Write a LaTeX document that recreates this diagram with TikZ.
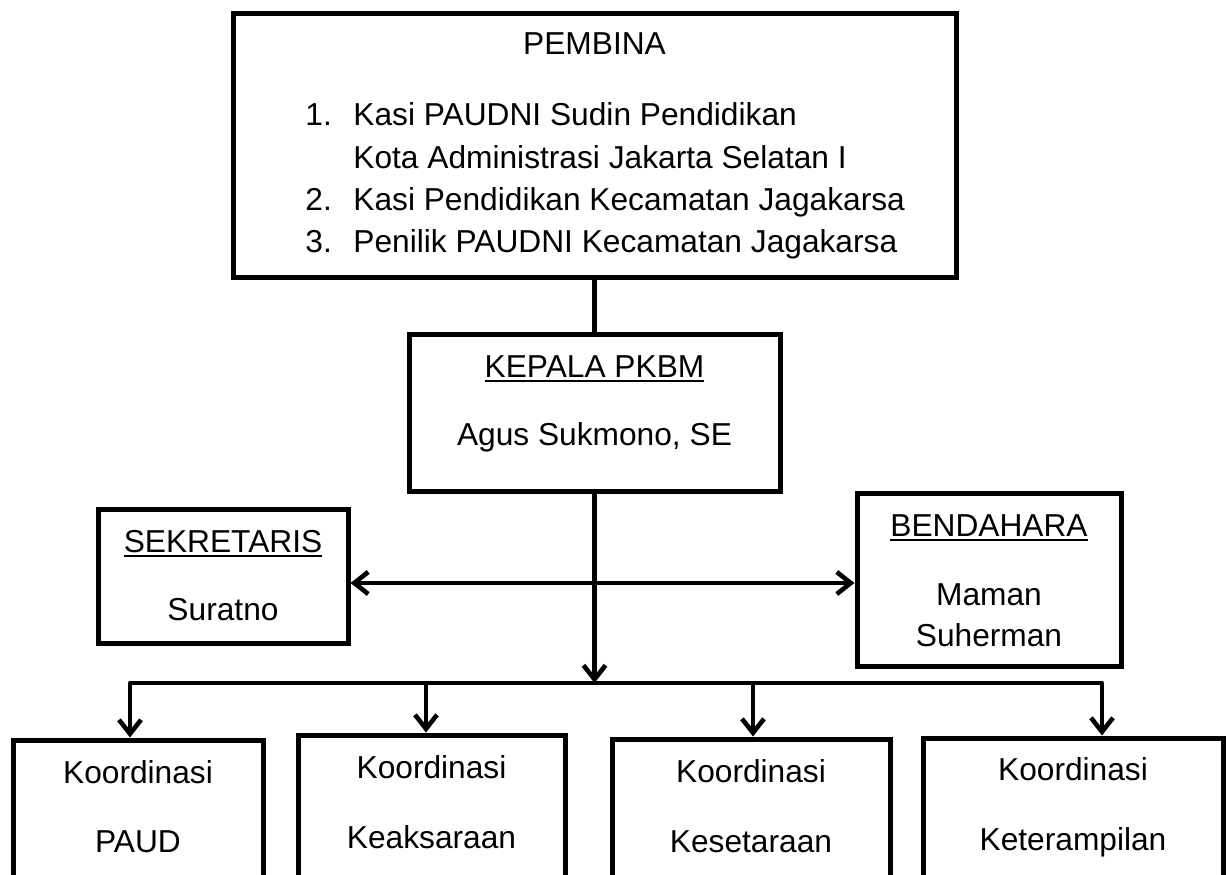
\documentclass[tikz,border=0pt]{standalone}
\usepackage{fontspec}
\setmainfont{Liberation Sans}
\usetikzlibrary{positioning,arrows.meta}
\tikzset{>={Straight Barb[length=7pt,width=11pt]}}
\newcommand{\garis}[1]{\setbox0\hbox{#1}\rlap{\rule[-2.7pt]{\wd0}{1.3pt}}\box0}

\begin{document}
\begin{tikzpicture}[
x=0.5pt, y=-0.5pt,
box/.style={draw=black, line width=2.5pt, inner sep=0pt},
teks/.style={inner sep=0pt, anchor=base, font=\fontsize{15.85pt}{21pt}\selectfont},
item/.style={teks, anchor=base west},
garisan/.style={line width=2.3pt, line join=round},
]
\useasboundingbox (0,0) rectangle (1226,874);

%Boxes
\node[box, minimum width=361.5pt, minimum height=132pt] (pembina) at (594.5,145) {};
\node[box, minimum width=185.5pt, minimum height=78.5pt] (kepala) at (594.5,412.5) {};
\node[box, minimum width=125pt, minimum height=67pt] (sekretaris) at (223,576) {};
\node[box, minimum width=132pt, minimum height=86.5pt] (bendahara) at (989,579.5) {};

%Koordinasi boxes
\node[box, minimum width=125pt, minimum height=90pt] (koor1) at (138,830) {};
\node[box, minimum width=133.5pt, minimum height=92.5pt] (koor2) at (431.5,827.5) {};
\node[box, minimum width=139pt, minimum height=90.5pt] (koor3) at (751,829.5) {};
\node[box, minimum width=150pt, minimum height=91pt] (koor4) at (1073,829) {};

%Pembina texts
\node[teks] (pembinaT) at (594.5,54) {PEMBINA};
\node[item] (no1) at (305,125) {1.};
\node[item] (no2) at (305,210) {2.};
\node[item] (no3) at (305,252) {3.};
\node[item] (item1) at (353,125) {Kasi PAUDNI Sudin Pendidikan};
\node[item] (item1b) at (353,168) {Kota Administrasi Jakarta Selatan I};
\node[item] (item2) at (353,210) {Kasi Pendidikan Kecamatan Jagakarsa};
\node[item] (item3) at (353,252) {Penilik PAUDNI Kecamatan Jagakarsa};

%Kepala, sekretaris, bendahara texts
\node[teks] (kepalaT) at (594.5,377) {\garis{KEPALA PKBM}};
\node[teks] (kepalaN) at (594.5,445) {Agus Sukmono, SE};
\node[teks] (sekretarisT) at (223,552) {\garis{SEKRETARIS}};
\node[teks] (sekretarisN) at (223,620) {Suratno};
\node[teks] (bendaharaT) at (989,536) {\garis{BENDAHARA}};
\node[teks] (bendaharaN1) at (989,605) {Maman};
\node[teks] (bendaharaN2) at (989,646) {Suherman};

%Koordinasi texts
\node[teks] (koor1T) at (138,783) {Koordinasi};
\node[teks] (koor1N) at (138,852) {PAUD};
\node[teks] (koor2T) at (431.5,778) {Koordinasi};
\node[teks] (koor2N) at (431.5,848) {Keaksaraan};
\node[teks] (koor3T) at (751,782) {Koordinasi};
\node[teks] (koor3N) at (751,852) {Kesetaraan};
\node[teks] (koor4T) at (1073,780) {Koordinasi};
\node[teks] (koor4N) at (1073,850) {Keterampilan};

%Bus points
\coordinate (tengah) at (594,583);
\coordinate (pusat) at (594,683);
\coordinate (c1) at (130,683);
\coordinate (c2) at (426,683);
\coordinate (c3) at (753,683);
\coordinate (c4) at (1102,683);

%Connections
\draw[garisan] (pembina.south) -- (kepala.north);
\draw[garisan, ->] (kepala.south) -- (kepala.south |- pusat);
\draw[garisan, <->] (sekretaris.east |- tengah) -- (bendahara.west |- tengah);
\draw[garisan, <->] (c1 |- koor1.north) -- (c1) -- (c4) -- (c4 |- koor4.north);
\draw[garisan, ->] (c2) -- (c2 |- koor2.north);
\draw[garisan, ->] (c3) -- (c3 |- koor3.north);
\end{tikzpicture}
\end{document}
